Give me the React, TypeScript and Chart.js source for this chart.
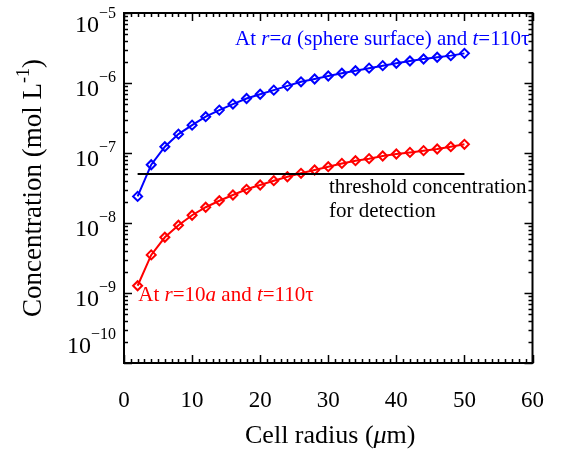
import { useEffect, useRef } from 'react';
import { Chart, registerables } from 'chart.js';

Chart.register(...registerables);

// ---- data ----
const cellRadius = [2, 4, 6, 8, 10, 12, 14, 16, 18, 20, 22, 24, 26, 28, 30, 32, 34, 36, 38, 40, 42, 44, 46, 48, 50];
const surfaceConc = [
  2.4e-8, 6.8e-8, 1.23e-7, 1.86e-7, 2.5e-7, 3.3e-7, 4.1e-7, 5.0e-7, 6.0e-7, 6.9e-7,
  7.9e-7, 9.1e-7, 1.04e-6, 1.14e-6, 1.26e-6, 1.38e-6, 1.5e-6, 1.63e-6, 1.77e-6, 1.91e-6,
  2.06e-6, 2.2e-6, 2.33e-6, 2.46e-6, 2.65e-6,
];
const farConc = [
  1.27e-9, 3.5e-9, 6.25e-9, 9.3e-9, 1.29e-8, 1.68e-8, 2.08e-8, 2.51e-8, 3.03e-8, 3.49e-8,
  4.02e-8, 4.58e-8, 5.13e-8, 5.72e-8, 6.37e-8, 7.1e-8, 7.76e-8, 8.3e-8, 9.06e-8, 9.68e-8,
  1.02e-7, 1.08e-7, 1.14e-7, 1.23e-7, 1.33e-7,
];
const thresholdX = [2, 50];
const thresholdConc = 5e-8;
const yDecades = [-10, -9, -8, -7, -6, -5];
const xMin = 0;
const xMax = 60;
const xStep = 10;

const BLUE = '#0000ff';
const RED = '#ff0000';
const SERIF = '"Liberation Serif", "Times New Roman", serif';

type Seg = { t: string; italic?: boolean; sup?: boolean };

// annotation anchors in data space
const annotations: { x: number; y: number; color: string; lines: Seg[][] }[] = [
  {
    x: 16.3, y: 3.5e-6, color: BLUE,
    lines: [[
      { t: 'At ' }, { t: 'r', italic: true }, { t: '=' }, { t: 'a', italic: true },
      { t: ' (sphere surface) and ' }, { t: 't', italic: true }, { t: '=110τ' },
    ]],
  },
  {
    x: 2.1, y: 7.7e-10, color: RED,
    lines: [[
      { t: 'At ' }, { t: 'r', italic: true }, { t: '=10' }, { t: 'a', italic: true },
      { t: ' and ' }, { t: 't', italic: true }, { t: '=110τ' },
    ]],
  },
  {
    x: 30.1, y: 2.68e-8, color: '#000',
    lines: [[{ t: 'threshold concentration' }], [{ t: 'for detection' }]],
  },
];

function drawRich(
  ctx: CanvasRenderingContext2D, segs: Seg[], x: number, y: number,
  size: number, color: string, align: 'left' | 'right' | 'center', supRaise = 0.45,
) {
  const supSize = Math.round(size * 0.68);
  const fontFor = (s: Seg) => `${s.italic ? 'italic ' : ''}${s.sup ? supSize : size}px ${SERIF}`;
  let total = 0;
  const widths = segs.map((s) => {
    ctx.font = fontFor(s);
    const w = ctx.measureText(s.t).width;
    total += w;
    return w;
  });
  let cx = align === 'left' ? x : align === 'right' ? x - total : x - total / 2;
  ctx.fillStyle = color;
  ctx.textAlign = 'left';
  ctx.textBaseline = 'alphabetic';
  segs.forEach((s, i) => {
    ctx.font = fontFor(s);
    ctx.fillText(s.t, cx, s.sup ? y - size * supRaise : y);
    cx += widths[i];
  });
}

const framePlugin = {
  id: 'frameAndLabels',
  afterDraw(chart: any) {
    const ctx: CanvasRenderingContext2D = chart.ctx;
    const { left, right, top, bottom } = chart.chartArea;
    const xs = chart.scales.x;
    const ys = chart.scales.y;
    ctx.save();
    ctx.strokeStyle = '#000';
    // ticks
    ctx.lineWidth = 1.5;
    ctx.beginPath();
    for (let v = xMin; v <= xMax; v += 1) {
      const px = Math.round(xs.getPixelForValue(v)) + 0.5;
      const len = v % xStep === 0 ? 8 : 4;
      ctx.moveTo(px, bottom);
      ctx.lineTo(px, bottom - len);
      ctx.moveTo(px, top);
      ctx.lineTo(px, top + len);
    }
    for (const d of yDecades) {
      for (let m = 1; m <= 9; m++) {
        const val = m * Math.pow(10, d);
        if (val > Math.pow(10, yDecades[yDecades.length - 1]) * 1.0001) break;
        const py = Math.round(ys.getPixelForValue(val)) + 0.5;
        const len = m === 1 ? 8 : 4;
        ctx.moveTo(left, py);
        ctx.lineTo(left + len, py);
        ctx.moveTo(right, py);
        ctx.lineTo(right - len, py);
      }
    }
    ctx.stroke();
    // frame
    ctx.lineWidth = 2;
    ctx.strokeRect(left, top, right - left, bottom - top);

    // y tick labels with superscripts (kept inside the frame's height)
    for (const d of yDecades) {
      const py = ys.getPixelForValue(Math.pow(10, d));
      const base = Math.min(Math.max(py + 13, top + 19), bottom - 10);
      drawRich(ctx, [{ t: '10' }, { t: '\u2212' + String(-d), sup: true }], left - 8, base, 24, '#000', 'right', 0.58);
    }

    // axis titles
    drawRich(
      ctx,
      [{ t: 'Cell radius (' }, { t: 'μ', italic: true }, { t: 'm)' }],
      (left + right) / 2 + 2, bottom + 80, 26, '#000', 'center',
    );
    ctx.save();
    ctx.translate(41, (top + bottom) / 2);
    ctx.rotate(-Math.PI / 2);
    drawRich(
      ctx,
      [{ t: 'Concentration (mol L' }, { t: '-1', sup: true }, { t: ')' }],
      0, 0, 27, '#000', 'center', 0.45,
    );
    ctx.restore();

    // annotations
    for (const a of annotations) {
      const ax = xs.getPixelForValue(a.x);
      const ay = ys.getPixelForValue(a.y);
      a.lines.forEach((line, i) => {
        drawRich(ctx, line, ax, ay + i * 24, 21, a.color, 'left');
      });
    }
    ctx.restore();
  },
};

export default function App() {
  const ref = useRef<HTMLCanvasElement | null>(null);
  useEffect(() => {
    if (!ref.current) return;
    const marker = (c: string) => ({
      borderColor: c,
      borderWidth: 2,
      pointStyle: 'rectRot' as const,
      pointRadius: 4.5,
      pointBorderWidth: 2,
      pointBackgroundColor: 'rgba(0,0,0,0)',
      pointBorderColor: c,
      showLine: true,
      tension: 0,
    });
    const chart = new Chart(ref.current, {
      type: 'scatter',
      data: {
        datasets: [
          {
            label: 'threshold',
            data: thresholdX.map((x) => ({ x, y: thresholdConc })),
            borderColor: '#000',
            borderWidth: 2,
            pointRadius: 0,
            showLine: true,
          },
          {
            label: 'surface',
            data: cellRadius.map((x, i) => ({ x, y: surfaceConc[i] })),
            ...marker(BLUE),
          },
          {
            label: 'far',
            data: cellRadius.map((x, i) => ({ x, y: farConc[i] })),
            ...marker(RED),
          },
        ],
      },
      options: {
        animation: false,
        responsive: false,
        devicePixelRatio: 1,
        layout: { padding: { top: 13, right: 21, left: 0, bottom: 0 } },
        plugins: { legend: { display: false }, tooltip: { enabled: false } },
        events: [],
        scales: {
          x: {
            type: 'linear',
            min: xMin,
            max: xMax,
            ticks: {
              stepSize: xStep,
              color: '#000',
              font: { family: SERIF, size: 23 },
              padding: 24,
              maxRotation: 0,
            },
            grid: { display: false, drawTicks: false },
            border: { display: false },
            afterFit: (s: any) => { s.height = 92; },
          },
          y: {
            type: 'logarithmic',
            min: 1e-10,
            max: 1e-5,
            ticks: { display: false },
            grid: { display: false, drawTicks: false },
            border: { display: false },
            afterFit: (s: any) => { s.width = 124; },
          },
        },
      } as any,
      plugins: [framePlugin],
    });
    return () => chart.destroy();
  }, []);
  return (
    <div style={{ position: 'absolute', left: 0, top: 0, width: 568, height: 455, background: '#fff' }}>
      <canvas ref={ref} width={568} height={455} />
    </div>
  );
}
